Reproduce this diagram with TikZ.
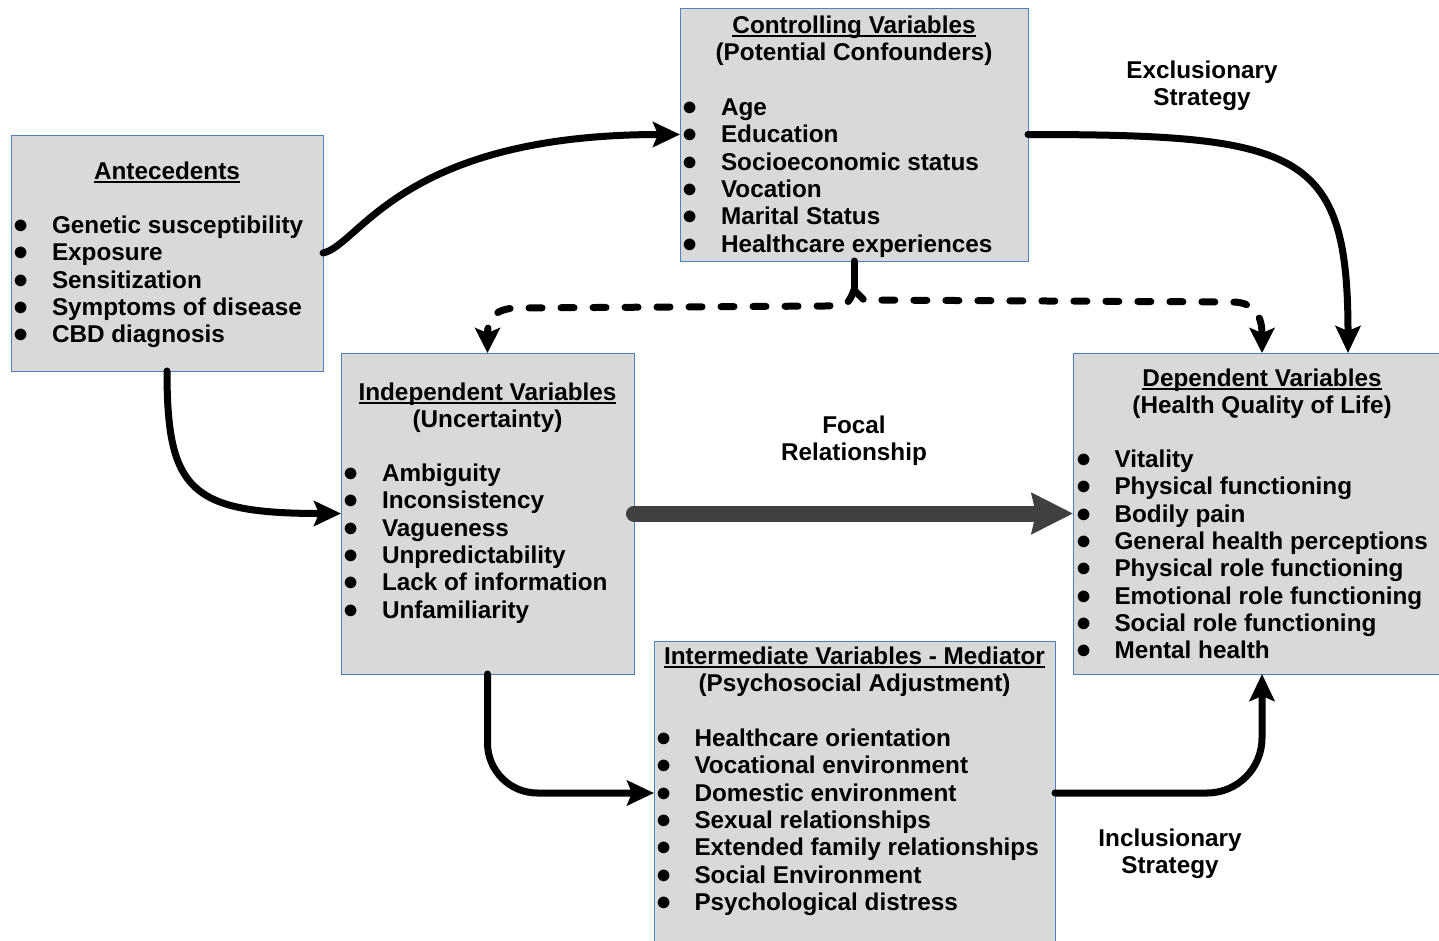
\documentclass[tikz,border=0pt]{standalone}
\usepackage{fontspec}
\setmainfont{Liberation Sans}
\usetikzlibrary{arrows.meta,calc}
\definecolor{boxfill}{RGB}{217,217,217}
\definecolor{boxline}{RGB}{79,129,189}
\definecolor{focalgray}{RGB}{64,64,64}
\newcommand\myul[1]{\setbox0\hbox{#1}\rlap{\rule[-3.5pt]{\wd0}{1.8pt}}\box0}
\newcommand\titl[2]{\begin{tabular}[t]{@{}c@{}}\myul{#1}\\#2\end{tabular}}
\newcommand\twol[2]{\begin{tabular}[t]{@{}c@{}}#1\\#2\end{tabular}}
\newcommand\blist[1]{\begin{tabular}[t]{@{}l@{}}#1\end{tabular}}
\newcommand\bi{\makebox[38.5pt][l]{\scalebox{1.22}{$\bullet$}}}
\begin{document}
\begin{tikzpicture}[x=1pt,y=-1pt,
  every node/.style={font=\fontsize{24.3}{27.3}\selectfont\bfseries, inner sep=0pt, outer sep=0pt},
  box/.style={draw=boxline, line width=1pt, fill=boxfill, rectangle},
  arr/.style={line width=7pt, line cap=round, -{Stealth[length=27pt,width=25pt,inset=5pt]}},
  dsh/.style={line width=7pt, line cap=round, dash pattern=on 13pt off 19pt, -{Stealth[length=25pt,width=25pt,inset=5pt]}},
  stub/.style={line width=7pt, line cap=round},
  focalarr/.style={line width=16pt, line cap=round, draw=focalgray, -{Stealth[length=41pt,width=40pt,inset=4pt]}}]
\clip (0,0) rectangle (1439,940);
\fill[white] (0,0) rectangle (1439,940);
% boxes
\node[box, minimum width=312pt, minimum height=236pt] (ante) at (167,253) {};
\node[box, minimum width=348pt, minimum height=253pt] (ctrl) at (854,134.5) {};
\node[box, minimum width=293pt, minimum height=321pt] (indep) at (487.5,513.5) {};
\node[box, minimum width=378pt, minimum height=321pt] (dep) at (1262,513.5) {};
\node[box, minimum width=401pt, minimum height=304pt] (inter) at (854.5,793) {};
% titles
\node[anchor=base] (tAnte) at (167,179.5) {\myul{Antecedents}};
\node[anchor=base] (tCtrl) at (854,33.5) {\titl{Controlling Variables}{(Potential Confounders)}};
\node[anchor=base] (tInd) at (487.5,400.5) {\titl{Independent Variables}{(Uncertainty)}};
\node[anchor=base] (tDep) at (1262,386.5) {\titl{Dependent Variables}{(Health Quality of Life)}};
\node[anchor=base] (tInt) at (854.5,664.5) {\titl{Intermediate Variables - Mediator}{(Psychosocial Adjustment)}};
% lists
\node[anchor=base west] (lAnte) at (13.5,233.5) {\blist{\bi Genetic susceptibility\\\bi Exposure\\\bi Sensitization\\\bi Symptoms of disease\\\bi CBD diagnosis}};
\node[anchor=base west] (lCtrl) at (682.5,115.5) {\blist{\bi Age\\\bi Education\\\bi Socioeconomic status\\\bi Vocation\\\bi Marital Status\\\bi Healthcare experiences}};
\node[anchor=base west] (lInd) at (343.5,481.5) {\blist{\bi Ambiguity\\\bi Inconsistency\\\bi Vagueness\\\bi Unpredictability\\\bi Lack of information\\\bi Unfamiliarity}};
\node[anchor=base west] (lDep) at (1076,467.5) {\blist{\bi Vitality\\\bi Physical functioning\\\bi Bodily pain\\\bi General health perceptions\\\bi Physical role functioning\\\bi Emotional role functioning\\\bi Social role functioning\\\bi Mental health}};
\node[anchor=base west] (lInt) at (656,746.5) {\blist{\bi Healthcare orientation\\\bi Vocational environment\\\bi Domestic environment\\\bi Sexual relationships\\\bi Extended family relationships\\\bi Social Environment\\\bi Psychological distress}};
% labels
\node[anchor=base] (lExc) at (1202,78.5) {\twol{Exclusionary}{Strategy}};
\node[anchor=base] (lFoc) at (854,433.5) {\twol{Focal}{Relationship}};
\node[anchor=base] (lInc) at (1170,846.5) {\twol{Inclusionary}{Strategy}};
% connectors
\draw[arr] (ante.east) .. controls (360,245) and (400,134.5) .. (ctrl.west);
\draw[arr] (ctrl.east) .. controls (1300,134.5) and (1348,150) .. ([xshift=86pt]dep.north);
\draw[arr] (ante.south) .. controls (167,490) and (190,513.5) .. (indep.west);
\draw[arr, rounded corners=50pt] (indep.south) |- (inter.west);
\draw[arr, rounded corners=55pt] (inter.east) -| (dep.south);
\draw[focalarr] (indep.east) -- (dep.west);
\draw[stub] (ctrl.south) -- (854,290) coordinate (jn);
\draw[dsh] (jn) .. controls (848,305) .. (825,306) -- (518,308) .. controls (492,308) and (487.5,322) .. (indep.north);
\draw[dsh] (jn) -- (864,300) -- (1232,302) .. controls (1256,302) and (1262,318) .. (dep.north);
\end{tikzpicture}
\end{document}
